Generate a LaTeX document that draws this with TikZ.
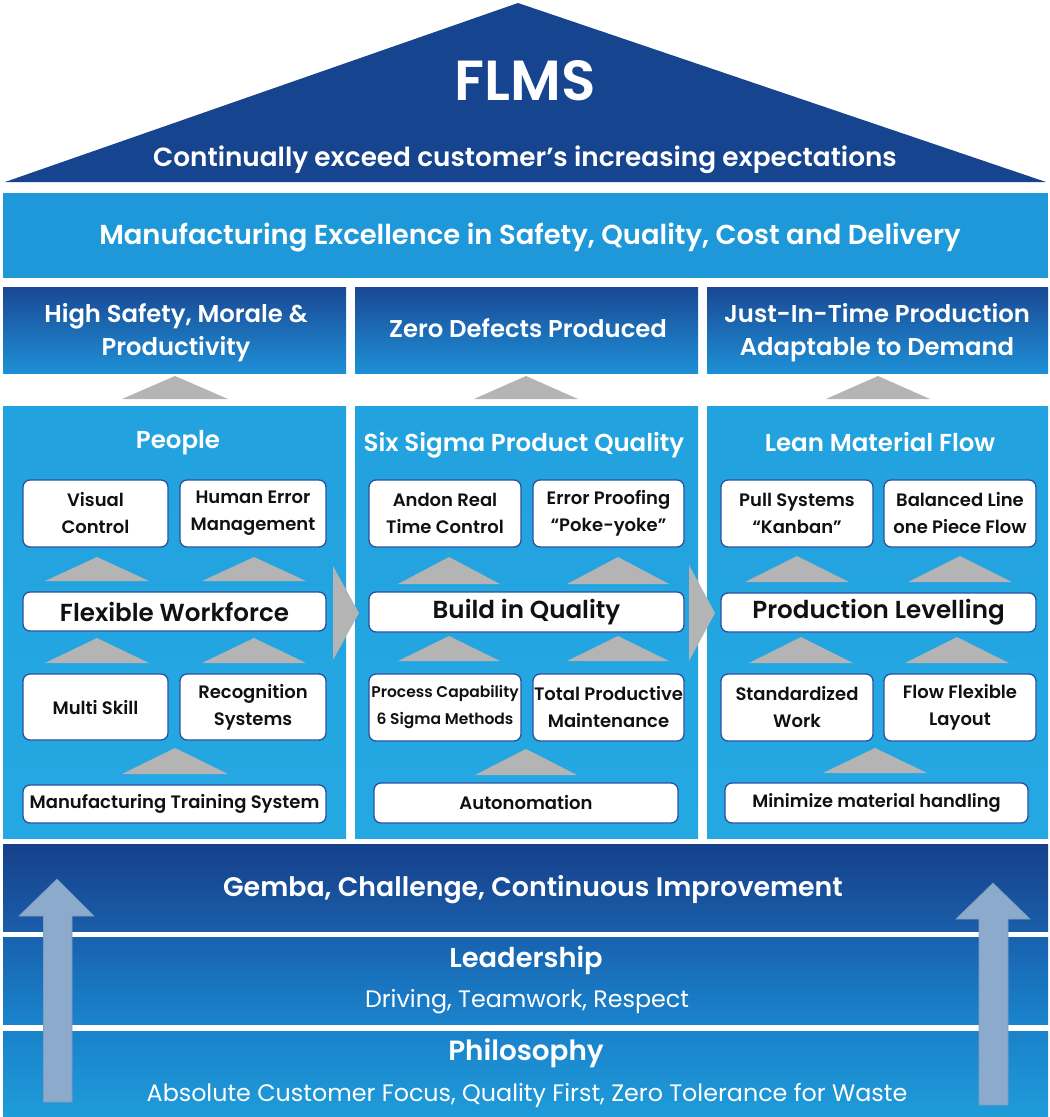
\documentclass[tikz,border=0pt]{standalone}
\usepackage{fontspec}
\IfFontExistsTF{Poppins SemiBold}{\setmainfont{Poppins}[BoldFont={Poppins SemiBold}]}{\setmainfont{Poppins}}
\definecolor{roofblue}{HTML}{17448E}
\definecolor{mfgblue}{HTML}{1E98D8}
\definecolor{hdtop}{HTML}{1A4894}
\definecolor{hdbot}{HTML}{1E90D6}
\definecolor{coltop}{HTML}{22A2DF}
\definecolor{colbot}{HTML}{24A8E2}
\definecolor{boxblue}{HTML}{2A50A0}
\definecolor{trigray}{HTML}{B4B4B4}
\definecolor{arrowc}{HTML}{8CAACB}
\definecolor{arrowline}{HTML}{7E9CC2}
\definecolor{gtop}{HTML}{16408A}
\definecolor{gbot}{HTML}{1A5EAA}
\definecolor{ltop}{HTML}{1862AF}
\definecolor{lbot}{HTML}{1A84CC}
\definecolor{ptop}{HTML}{1A82CA}
\definecolor{pbot}{HTML}{1F9CDA}
\definecolor{txtdark}{HTML}{111111}
\newcommand{\mytri}[4]{\fill[trigray] (#1-#4,#3) -- (#1,#2) -- (#1+#4,#3) -- cycle;}
\begin{document}
\begin{tikzpicture}[x=1pt,y=-1pt,
  wbox/.style={draw=boxblue, fill=white, rounded corners=7pt, line width=1.3pt, inner sep=0pt,
    align=center, text=txtdark, font=\bfseries\fontsize{18}{27}\selectfont},
  bigbox/.style={wbox, font=\bfseries\fontsize{24.6}{27}\selectfont},
  wtxt/.style={text=white, align=center, inner sep=0pt, anchor=base},
  hdr/.style={wtxt, font=\bfseries\fontsize{24.3}{30}\selectfont},
  ctitle/.style={wtxt, font=\bfseries\fontsize{24.5}{28}\selectfont},
  arrowstyle/.style={fill=arrowc, draw=arrowline, line width=0.6pt}
]
\useasboundingbox (0,0) rectangle (1050,1117);
\fill[white] (0,0) rectangle (1050,1117);

% roof
\fill[roofblue] (5,182) -- (518,3) -- (1046,182) -- cycle;
\node[wtxt, font=\bfseries\fontsize{56.5}{60}\selectfont] (flms) at (525,100) {FLMS};
\node[wtxt, font=\bfseries\fontsize{26.3}{30}\selectfont] (cont) at (525,166) {Continually exceed customer’s increasing expectations};

% manufacturing bar
\fill[mfgblue] (3,193) rectangle (1048,278);
\node[wtxt, font=\bfseries\fontsize{27.4}{32}\selectfont] (mfg) at (530,244) {Manufacturing Excellence in Safety, Quality, Cost and Delivery};

% headers
\shade[top color=hdtop, bottom color=hdbot] (3,287) rectangle (346,373);
\shade[top color=hdtop, bottom color=hdbot] (355,287) rectangle (698,373);
\shade[top color=hdtop, bottom color=hdbot] (707,287) rectangle (1048,373);
\node[hdr] (h1a) at (176,322) {High Safety, Morale \&};
\node[hdr] (h1b) at (176,355) {Productivity};
\node[hdr] (h2) at (528,337) {Zero Defects Produced};
\node[hdr] (h3a) at (877,322) {Just-In-Time Production};
\node[hdr] (h3b) at (877,355) {Adaptable to Demand};

% header triangles
\mytri{175}{376}{399}{53}
\mytri{526}{376}{399}{52}
\mytri{878}{376}{399}{52}

% column bodies
\shade[top color=coltop, bottom color=colbot] (3,406) rectangle (346,838);
\shade[top color=coltop, bottom color=colbot] (355,406) rectangle (698,838);
\shade[top color=coltop, bottom color=colbot] (707,406) rectangle (1048,838);

% column-to-column arrows
\fill[trigray] (333,566) -- (359,613) -- (333,660) -- cycle;
\fill[trigray] (689,565) -- (715,613) -- (689,661) -- cycle;

% ===== left column =====
\node[ctitle] (people) at (178,448) {People};
\mytri{97}{557}{581}{52}
\mytri{254}{557}{581}{52}
\mytri{97}{638}{663}{52}
\mytri{254}{638}{663}{52}
\mytri{175}{748}{774}{53}
\node[wbox, minimum width=145pt, minimum height=67pt] (vc) at (95.5,513.5) {Visual\\Control};
\node[wbox, minimum width=146pt, minimum height=67pt] (hem) at (253,513.5) {Human Error\\Management};
\node[bigbox, minimum width=303pt, minimum height=39pt] (ff) at (174.5,611.5) {Flexible Workforce};
\node[wbox, minimum width=145pt, minimum height=66pt] (ms) at (95.5,707) {Multi Skill};
\node[wbox, minimum width=146pt, minimum height=66pt] (rs) at (253,707) {Recognition\\Systems};
\node[wbox, minimum width=303pt, minimum height=38pt] (mts) at (174.5,804) {Manufacturing Training System};

% ===== middle column =====
\node[ctitle] (ssq) at (524,451) {Six Sigma Product Quality};
\mytri{449}{557}{584}{51}
\mytri{618}{557}{584}{51}
\mytri{449}{636}{661}{51}
\mytri{618}{636}{661}{51}
\mytri{526}{749}{775}{51}
\node[wbox, minimum width=152pt, minimum height=67pt] (andon) at (445,513.5) {Andon Real\\Time Control};
\node[wbox, minimum width=151pt, minimum height=67pt] (ep) at (608.5,513.5) {Error Proofing\\“Poke-yoke”};
\node[bigbox, minimum width=315pt, minimum height=40pt] (biq) at (526.5,612) {Build in Quality};
\node[wbox, minimum width=152pt, minimum height=67pt, font=\bfseries\fontsize{15.5}{27}\selectfont] (pc) at (445,707.5) {Process Capability\\6 Sigma Methods};
\node[wbox, minimum width=151pt, minimum height=67pt] (tpm) at (608.5,707.5) {Total Productive\\Maintenance};
\node[wbox, minimum width=304pt, minimum height=40pt] (auto) at (526,803) {Autonomation};

% ===== right column =====
\node[ctitle] (lmf) at (880,451) {Lean Material Flow};
\mytri{797}{556}{582}{52}
\mytri{960}{556}{582}{52}
\mytri{801}{637}{663}{52}
\mytri{957}{637}{663}{52}
\mytri{875}{748}{773}{52}
\node[wbox, minimum width=152pt, minimum height=67pt] (ps) at (797,513.5) {Pull Systems\\“Kanban”};
\node[wbox, minimum width=152pt, minimum height=67pt] (bl) at (960,513.5) {Balanced Line\\one Piece Flow};
\node[bigbox, minimum width=315pt, minimum height=39pt] (pl) at (878.5,612.5) {Production Levelling};
\node[wbox, minimum width=152pt, minimum height=67pt] (sw) at (797,707.5) {Standardized\\Work};
\node[wbox, minimum width=152pt, minimum height=67pt] (ffl) at (960,707.5) {Flow Flexible\\Layout};
\node[wbox, minimum width=303pt, minimum height=40pt, font=\bfseries\fontsize{17.8}{27}\selectfont] (mmh) at (876.5,803) {Minimize material handling};

% ===== foundation bands =====
\shade[top color=gtop, bottom color=gbot] (3,844) rectangle (1048,931);
\shade[top color=ltop, bottom color=lbot] (3,937) rectangle (1048,1024);
\shade[top color=ptop, bottom color=pbot] (3,1031) rectangle (1048,1117);

% up arrows
\filldraw[arrowstyle] (43.5,1102) -- (43.5,916) -- (19,916) -- (57,879) -- (94,916) -- (72,916) -- (72,1102) -- cycle;
\filldraw[arrowstyle] (979,1105) -- (979,919) -- (956,919) -- (993,883) -- (1030,919) -- (1008,919) -- (1008,1105) -- cycle;

\node[wtxt, font=\bfseries\fontsize{26.8}{30}\selectfont] (gemba) at (533,896) {Gemba, Challenge, Continuous Improvement};
\node[wtxt, font=\bfseries\fontsize{27.3}{30}\selectfont] (lead) at (526,967) {Leadership};
\node[wtxt, font=\fontsize{23.8}{26}\selectfont] (drive) at (527,1007) {Driving, Teamwork, Respect};
\node[wtxt, font=\bfseries\fontsize{27.8}{30}\selectfont] (phil) at (526,1060) {Philosophy};
\node[wtxt, font=\fontsize{23.8}{26}\selectfont] (abs) at (527,1101) {Absolute Customer Focus, Quality First, Zero Tolerance for Waste};
\end{tikzpicture}
\end{document}
